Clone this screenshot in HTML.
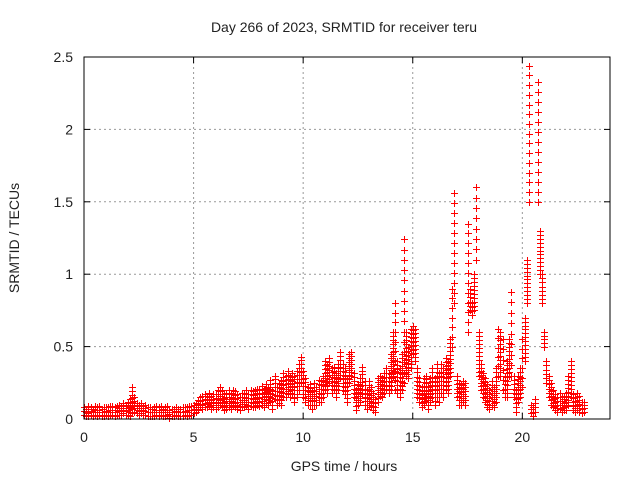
<!DOCTYPE html>
<html><head><meta charset="utf-8"><style>
body{margin:0;background:#fff;}
svg text{font-family:"Liberation Sans",sans-serif;fill:#222;}
</style></head><body>
<svg id="chart" width="640" height="480" xmlns="http://www.w3.org/2000/svg">
<text x="344" y="32" font-size="14" text-anchor="middle">Day 266 of 2023, SRMTID for receiver teru</text>
<text x="344" y="471" font-size="14" text-anchor="middle">GPS time / hours</text>
<text transform="translate(19,238) rotate(-90)" font-size="14" text-anchor="middle">SRMTID / TECUs</text>
<g id="grid"></g><g id="ticks"></g><g id="marks"></g>
<rect x="84" y="57" width="526" height="362" fill="none" stroke="#000" stroke-width="1"/>
</svg>
<script>
const xTicks=[0,5,10,15,20];
const yTicks=[0,0.5,1,1.5,2,2.5];
const yTickLabels=["0","0.5","1","1.5","2","2.5"];
const startHour=0, stepHours=0.1;
const srmtidLow=[
.03,.02,.02,.03,.02,.03,.02,.03,.02,.02,
.03,.02,.03,.03,.02,.03,.03,.03,.04,.03,
.03,.02,.04,.05,.04,.03,.04,.03,.03,.02,
.02,.02,.02,.03,.02,.03,.02,.02,.03,.01,
.02,.02,.03,.02,.02,.02,.03,.02,.03,.03,
.04,.05,.06,.08,.07,.08,.08,.09,.07,.08,
.07,.08,.1,.08,.06,.07,.08,.07,.09,.08,
.07,.06,.08,.08,.09,.07,.09,.08,.08,.1,
.09,.1,.08,.11,.1,.12,.07,.14,.1,.11,
.1,.15,.15,.17,.15,.17,.12,.15,.2,.25,
.15,.12,.1,.1,.07,.1,.1,.12,.12,.15,
.2,.18,.25,.18,.2,.15,.2,.28,.2,.17,
.12,.25,.3,.15,.06,.1,.12,.18,.1,.07,
.1,.08,.06,.05,.12,.16,.15,.18,.2,.18,
.2,.3,.2,.18,.15,.2,.25,.3,.28,.35,
.45,.4,.15,.12,.08,.1,.12,.07,.12,.15,
.1,.15,.12,.18,.15,.2,.18,.3,.5,.8,
.15,.1,.1,.12,.1,.6,.75,.72,.75,1.1,
.3,.2,.15,.12,.08,.07,.1,.08,.12,.3,
.3,.2,.15,.15,.3,.3,.15,.05,.12,.15,
.22,.4,.8,1.5,.04,.02,.05,1.5,1.0,.8,
.5,.25,.15,.1,.08,.06,.05,.07,.05,.06,
.06,.1,.15,.06,.05,.06,.05,.04,.05];
const srmtidHigh=[
.08,.07,.09,.08,.07,.09,.08,.09,.07,.08,
.08,.08,.09,.09,.08,.09,.1,.09,.11,.1,
.12,.14,.22,.15,.11,.1,.11,.09,.1,.08,
.08,.07,.08,.09,.08,.09,.07,.08,.09,.06,
.07,.07,.08,.07,.07,.08,.08,.08,.09,.09,
.1,.11,.13,.15,.16,.17,.16,.18,.16,.17,
.17,.2,.22,.2,.17,.18,.2,.18,.2,.19,
.17,.15,.18,.18,.2,.17,.2,.19,.2,.21,
.2,.23,.2,.24,.22,.27,.2,.3,.22,.25,
.27,.32,.3,.33,.3,.32,.3,.33,.38,.43,
.33,.28,.22,.24,.2,.25,.22,.27,.26,.3,
.4,.38,.42,.35,.36,.32,.38,.46,.38,.35,
.28,.45,.46,.32,.2,.24,.28,.36,.26,.2,
.26,.22,.18,.14,.28,.3,.28,.32,.35,.32,
.45,.6,.8,.4,.35,.45,1.24,.6,.5,.62,
.64,.62,.35,.28,.22,.28,.3,.22,.28,.35,
.28,.38,.32,.38,.35,.42,.4,.55,.9,1.56,
.3,.25,.24,.26,.25,1.35,.9,.8,1.0,1.6,
.6,.38,.32,.28,.24,.2,.26,.22,.35,.62,
.6,.55,.3,.4,.55,.88,.3,.2,.3,.35,
.55,.7,1.1,2.44,.1,.08,.14,2.33,1.3,1.0,
.6,.4,.3,.25,.2,.17,.15,.18,.15,.16,
.18,.3,.4,.17,.15,.18,.16,.12,.12];
const X0=84,X1=610,Y0=419,Y1=57,XMAX=24,YMAX=2.5;
const xs=v=>X0+(v/XMAX)*(X1-X0);
const ys=v=>Y0-(v/YMAX)*(Y0-Y1);
const NS="http://www.w3.org/2000/svg";
const grid=document.getElementById('grid'),ticks=document.getElementById('ticks'),marks=document.getElementById('marks');
function mk(tag,at,parent){const e=document.createElementNS(NS,tag);for(const k in at)e.setAttribute(k,at[k]);parent.appendChild(e);return e;}
xTicks.forEach(t=>{
  const x=xs(t);
  if(t>0){const g=mk('line',{x1:x,y1:Y0,x2:x,y2:Y1,stroke:'#999','stroke-dasharray':'2,3'},grid);
  
  }
  mk('line',{x1:x,y1:Y0,x2:x,y2:Y0-6,stroke:'#000'},ticks);
  mk('line',{x1:x,y1:Y1,x2:x,y2:Y1+6,stroke:'#000'},ticks);
  const l=mk('text',{x:x,y:Y0+23,'font-size':14,'text-anchor':'middle'},ticks);l.textContent=t;
  
  
});
yTicks.forEach((t,i)=>{
  const y=ys(t);
  if(t>0&&t<YMAX){const g=mk('line',{x1:X0,y1:y,x2:X1,y2:y,stroke:'#999','stroke-dasharray':'2,3'},grid);
  
  }
  mk('line',{x1:X0,y1:y,x2:X0+6,y2:y,stroke:'#000'},ticks);
  mk('line',{x1:X1,y1:y,x2:X1-6,y2:y,stroke:'#000'},ticks);
  const l=mk('text',{x:X0-11,y:y+5,'font-size':14,'text-anchor':'end'},ticks);l.textContent=yTickLabels[i];
  
  
});
srmtidLow.forEach((lo,i)=>{
  const hi=srmtidHigh[i];
  const x=Math.round(xs(startHour+i*stepHours))+0.5;
  const yl=ys(lo),yh=ys(hi);
  const span=yl-yh;
  const gap=span>45?10:4;
  let d='';
  const n=Math.max(1,Math.round(span/gap));
  for(let k=0;k<=n;k++){const y=Math.round(yh+span*k/n)+0.5;d+=`M${x-3.5},${y}h7M${x},${y-3.5}v7`;}
  const p=mk('path',{d:d,stroke:'#f00','stroke-width':1,fill:'none','shape-rendering':'crispEdges'},marks);
  
  
});
</script>
</body></html>
